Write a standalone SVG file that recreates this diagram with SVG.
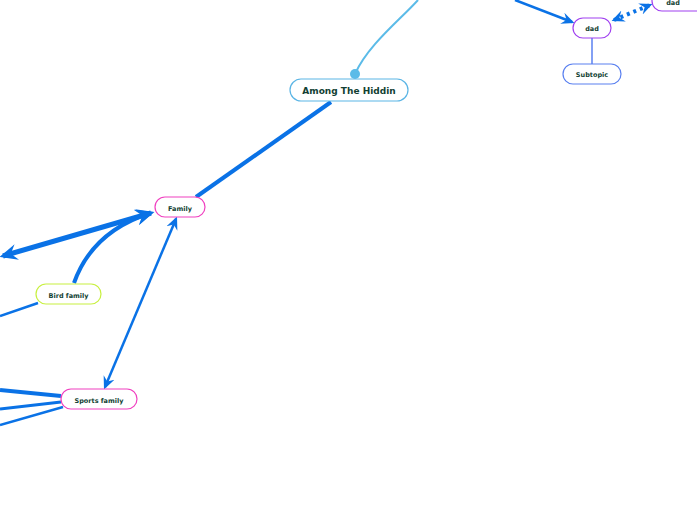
<svg xmlns="http://www.w3.org/2000/svg" width="697" height="520" viewBox="0 0 697 520">
<style>
.node rect{fill:#fff;stroke-width:1.2}
.t{font-family:"DejaVu Sans",Verdana,sans-serif;font-weight:bold;fill:#123f33;text-anchor:middle}
.c{fill:none;stroke:#0a72e6;stroke-linecap:butt}
</style>
<defs>
<marker id="big" viewBox="0 0 10 10" refX="8" refY="5" markerWidth="18" markerHeight="18" markerUnits="userSpaceOnUse" orient="auto-start-reverse">
<path d="M0,0.5 L10,5 L0,9.5 L3.5,5 z" fill="#0a72e6"/>
</marker>
<marker id="ah" viewBox="0 0 10 10" refX="8" refY="5" markerWidth="13" markerHeight="13" markerUnits="userSpaceOnUse" orient="auto-start-reverse">
<path d="M0,0.5 L10,5 L0,9.5 L3.5,5 z" fill="#0a72e6"/>
</marker>
</defs>
<rect width="697" height="520" fill="#fff"/>
<g id="connectors">
<path class="c" d="M331,102 L196,197" stroke-width="4"/>
<path class="c" d="M3,256 L151,213" stroke-width="5" marker-start="url(#big)" marker-end="url(#big)"/>
<path class="c" d="M74,283 Q92,232 150,213" stroke-width="4" marker-end="url(#big)"/>
<path class="c" d="M176,219 L105,387" stroke-width="2.5" marker-start="url(#ah)" marker-end="url(#ah)"/>
<path class="c" d="M38,303 L0,316" stroke-width="2.5"/>
<path class="c" d="M61,396 L0,390" stroke-width="4"/>
<path class="c" d="M61,402 L0,409" stroke-width="3"/>
<path class="c" d="M63,407 L0,425" stroke-width="2.5"/>
<path class="c" d="M515,0 L572,22" stroke-width="2.5" marker-end="url(#ah)"/>
<path class="c" d="M614,20 L650,5" stroke-width="4" stroke-dasharray="3,4" marker-start="url(#ah)" marker-end="url(#ah)"/>
<path d="M355,74 C368,45 400,20 418,0" fill="none" stroke="#5bbbe8" stroke-width="2"/>
<circle cx="355" cy="74" r="5" fill="#5bbbe8"/>
<path d="M592,38 L592,64" fill="none" stroke="#5a80f0" stroke-width="1.5"/>
</g>
<g id="among" class="node"><rect x="290" y="79" width="118" height="22" rx="11" stroke="#5bb5e5"/><text class="t" x="349" y="94" font-size="9">Among The Hiddin</text></g>
<g id="family" class="node"><rect x="155" y="197" width="50" height="20" rx="10" stroke="#f040c0"/><text class="t" x="180" y="210.5" font-size="6.5">Family</text></g>
<g id="bird" class="node"><rect x="36" y="284" width="65" height="20" rx="10" stroke="#c8f040"/><text class="t" x="68.5" y="297.5" font-size="6.5">Bird family</text></g>
<g id="sports" class="node"><rect x="61" y="389" width="76" height="20" rx="10" stroke="#f040c0"/><text class="t" x="99" y="402.5" font-size="6.5">Sports family</text></g>
<g id="dad1" class="node"><rect x="573" y="18" width="38" height="20" rx="10" stroke="#a040f0"/><text class="t" x="592" y="31" font-size="6.5">dad</text></g>
<g id="subtopic" class="node"><rect x="563" y="64" width="58" height="20" rx="10" stroke="#5a80f0"/><text class="t" x="592" y="77" font-size="6.5">Subtopic</text></g>
<g id="dad2" class="node"><rect x="652" y="-10" width="62" height="21" rx="10" stroke="#a040f0"/><text class="t" x="673" y="5" font-size="6.5">dad</text></g>
</svg>
